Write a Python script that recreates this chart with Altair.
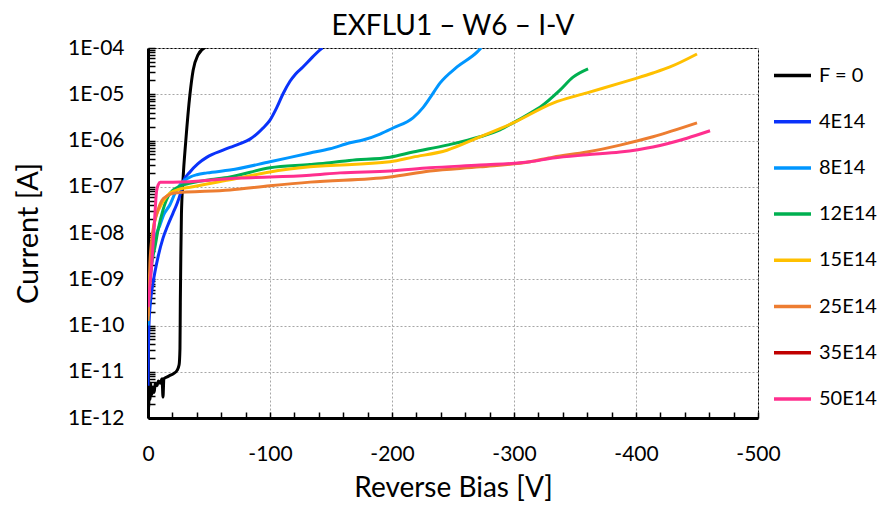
import altair as alt
import pandas as pd

series = ["F = 0", "4E14", "8E14", "12E14", "15E14", "25E14", "35E14", "50E14"]
colors = ["#000000", "#0A32FA", "#0096FF", "#00B050", "#FFC000", "#ED7D31", "#C00000", "#FF2F8E"]

# Reverse bias [V] and log10(current [A])
f0_v = [0, -0.5, -1, -1.6, -2.2, -3, -4, -5, -6, -7.4, -8.5, -10, -11.5, -12.3, -13, -15, -18, -21,
        -23.8, -25.5, -26.2, -26.5, -26.9, -27.4, -28.7, -31, -34.4, -37, -41, -47]
f0_log = [-11.5, -11.8, -11.3, -11.6, -11.25, -11.5, -11.35, -11.45, -11.25, -11.3, -11.2, -11.25,
          -11.15, -11.55, -11.15, -11.12, -11.08, -11.04, -10.97, -10.85, -10.5, -9.5, -8.5, -7.6,
          -6.85, -6.0, -5.0, -4.48, -4.15, -3.98]

f4_v = [0, -0.3, -0.8, -2, -4, -6, -8.2, -12.3, -16, -20.5, -24, -26.2, -28.7, -34.4, -41, -48.4,
        -61.5, -67.2, -75.4, -83.6, -90, -94.3, -100, -105.7, -110.7, -116.4, -121, -127, -134, -141, -143]
f4_log = [-11.3, -10.6, -10.0, -9.5, -9.1, -8.8, -8.52, -8.11, -7.85, -7.57, -7.35, -7.18, -6.90,
          -6.68, -6.5, -6.36, -6.21, -6.15, -6.07, -5.97, -5.84, -5.73, -5.56, -5.28, -4.99, -4.72,
          -4.56, -4.41, -4.22, -4.04, -4.0]

f8_v = [0, -0.3, -0.8, -1.5, -2.5, -4, -5.7, -7.5, -9.8, -13, -18, -22, -26.2, -30, -34.4, -40,
        -48.4, -67.2, -100, -132.8, -149.2, -165.6, -176.2, -190.2, -200.8, -217.2, -225.4, -231.1,
        -239.3, -253.3, -269.7, -273]
f8_log = [-10.0, -9.8, -9.45, -9.1, -8.8, -8.45, -8.15, -7.98, -7.83, -7.6, -7.39, -7.15, -6.96,
          -6.86, -6.79, -6.74, -6.70, -6.64, -6.46, -6.27, -6.18, -6.05, -5.99, -5.86, -5.73, -5.51,
          -5.29, -5.08, -4.76, -4.41, -4.09, -4.0]

f12_v = [0, -0.5, -1.5, -3, -5.7, -8.2, -12.3, -18, -25, -35, -48, -67.2, -100, -132.8, -149,
         -165, -198.4, -217.2, -245.1, -272.1, -288.5, -299.2, -313.1, -321.3, -337.7, -348.4, -360.7]
f12_log = [-9.9, -9.4, -9.0, -8.65, -8.30, -7.94, -7.50, -7.14, -7.0, -6.92, -6.86, -6.79, -6.59,
           -6.52, -6.48, -6.43, -6.36, -6.25, -6.10, -5.92, -5.77, -5.62, -5.41, -5.28, -4.91, -4.63,
           -4.45]

f15_v = [0, -0.6, -1.6, -3.3, -5.7, -9.8, -14, -18, -25, -34.4, -67.2, -100, -132.8, -198.4, -217.2,
         -245.1, -272.1, -299.2, -332, -359.8, -386.9, -400.8, -413.9, -427.9, -450]
f15_log = [-9.8, -9.4, -9.02, -8.30, -7.72, -7.44, -7.25, -7.14, -7.06, -7.01, -6.85, -6.68, -6.57,
           -6.46, -6.36, -6.21, -5.92, -5.62, -5.19, -4.97, -4.76, -4.65, -4.54, -4.41, -4.13]

f25_v = [0, -0.2, -1.6, -4.1, -7.4, -11.5, -15.6, -20.5, -67.2, -100, -132.8, -198.4, -231.1, -272.1,
         -313.1, -332, -359.8, -386.9, -413.9, -450]
f25_log = [-9.9, -9.71, -8.65, -7.94, -7.57, -7.29, -7.20, -7.14, -7.07, -6.98, -6.90, -6.79, -6.66,
           -6.57, -6.46, -6.36, -6.25, -6.10, -5.92, -5.62]

f35_v = []
f35_log = []

f50_v = [0, -1, -3, -5, -7, -8.5, -10, -20.5, -75.4, -100, -132.8, -157.4, -198.4, -231.1, -272.1,
         -313.1, -332, -359.8, -386.9, -413.9, -441.8, -460.7]
f50_log = [-9.6, -9.3, -8.7, -7.9, -7.1, -6.95, -6.9, -6.90, -6.81, -6.79, -6.75, -6.70, -6.66, -6.59,
           -6.53, -6.46, -6.38, -6.31, -6.25, -6.14, -5.95, -5.79]

all_v = [f0_v, f4_v, f8_v, f12_v, f15_v, f25_v, f35_v, f50_v]
all_log = [f0_log, f4_log, f8_log, f12_log, f15_log, f25_log, f35_log, f50_log]

rows = []
for name, vs, ls in zip(series, all_v, all_log):
    for i, (v, l) in enumerate(zip(vs, ls)):
        rows.append({"series": name, "V": v, "I": 10 ** l, "i": i})
df = pd.DataFrame(rows)

x_major = [0, -100, -200, -300, -400, -500]
x_minor = list(range(0, -501, -20))
decades = [10.0 ** -k for k in range(4, 13)]
minor = [m * 10.0 ** -k for k in range(5, 13) for m in range(2, 10)]

FONT = "Lato"
x_scale = alt.Scale(domain=[0, -500], nice=False, zero=False)
y_scale = alt.Scale(type="log", domain=[1e-12, 1e-4], nice=False)

base = alt.Chart(df)

lines = base.mark_line(strokeWidth=3, clip=True, interpolate="monotone").encode(
    x=alt.X("V:Q", scale=x_scale,
            axis=alt.Axis(values=x_major, title="Reverse Bias [V]", grid=True, gridDash=[2, 2],
                          gridColor="#A6A6A6", gridWidth=1, ticks=False, domainColor="black",
                          domainWidth=3, labelFontSize=21, labelFont=FONT, labelColor="black",
                          labelPadding=25, labelFlush=False, titleFont=FONT, titleFontSize=28,
                          titleFontWeight="normal", titleColor="black", titlePadding=10,
                          labelExpr="'' + datum.value")),
    y=alt.Y("I:Q", scale=y_scale,
            axis=alt.Axis(values=decades, title="Current [A]", grid=True, gridDash=[2, 2],
                          gridColor="#A6A6A6", gridWidth=1, ticks=False, domainColor="black",
                          domainWidth=3, labelFontSize=21, labelFont=FONT, labelColor="black",
                          labelPadding=24, labelFlush=False, titleFont=FONT, titleFontSize=29,
                          titleFontWeight="normal", titleColor="black", titlePadding=24,
                          labelExpr="'1E-' + (round(-log(datum.value)/LN10) < 10 ? '0' : '') + round(-log(datum.value)/LN10)")),
    color=alt.Color("series:N", scale=alt.Scale(domain=series, range=colors),
                    legend=alt.Legend(title=None, orient="none", legendX=624, legendY=7,
                                      symbolType="stroke", symbolSize=1369, symbolStrokeWidth=3.5,
                                      labelFont=FONT, labelFontSize=20, labelColor="black",
                                      labelOffset=6, rowPadding=15.2, padding=0)),
    order="i:Q",
)

tick_layer = base.mark_line(opacity=0).encode(
    x=alt.X("V:Q", scale=x_scale,
            axis=alt.Axis(values=x_minor, orient="bottom", offset=-6, tickSize=6, tickWidth=1.5,
                          tickColor="black", labels=False, domain=False, grid=False, title="")),
    y=alt.Y("I:Q", scale=y_scale,
            axis=alt.Axis(values=minor + decades, orient="left", offset=-7, tickSize=7, tickWidth=1.5,
                          tickColor="black", labels=False, domain=False, grid=False, title="")),
    detail="series:N",
)

chart = alt.layer(lines, tick_layer).resolve_axis(x="independent", y="independent").properties(
    width=610, height=370,
    autosize=alt.AutoSizeParams(type="none"),
    padding={"left": 140, "top": 40, "right": 120, "bottom": 84},
    title=alt.Title("EXFLU1 – W6 – I-V", font=FONT, fontSize=28, fontWeight="normal",
                    color="black", offset=-4),
).configure_view(stroke="black", strokeWidth=1)

chart.save("out.html", embed_options={"renderer": "svg", "actions": False})
